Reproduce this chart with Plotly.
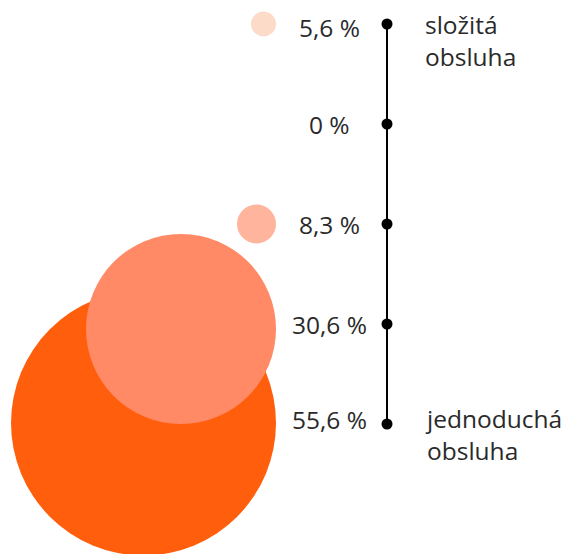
import plotly.graph_objects as go

# ---- data ----
row_labels = ["5,6 %", "0 %", "8,3 %", "30,6 %", "55,6 %"]
values = [5.6, 0.0, 8.3, 30.6, 55.6]
end_labels = {0: "složitá<br>obsluha", 4: "jednoduchá<br>obsluha"}

# ---- style ----
OFF = 8                                 # page body margin
W, H = 572 - OFF, 554 - OFF
bubble_colors = ["#FCDCC9", None, "#FFB49E", "#FF8A65", "#FF5F0D"]
bubble_diam = [25, 0, 39, 190, 265]     # rendered bubble diameters (px)
bubble_dy = [0, 0, 0, 0.05, -0.01]      # small vertical nudges of bubbles (row units)
bubble_right = 276 - OFF                # right edge of all bubbles (px)
axis_x = 387 - OFF
label_x = 329 - OFF
right_x = 423 - OFF
label_yshift = [-3, 0, 0, 0, 5]         # fine vertical nudges of % labels (px)
end_yshift = {0: 18, 4: 24}
text_color = "#2a2a2a"
FONT = "Open Sans"
FS = 24.5

# row pixel mapping: row 0 at y=24, row 4 at y=424 (page px)
top_px, step_px = 24 - OFF, 100.0
y_range = [(H - top_px) / step_px, -top_px / step_px]

n = len(values)
rows = list(range(n))

fig = go.Figure()

# bubbles, largest drawn first
order = sorted([i for i in rows if values[i] > 0], key=lambda i: -values[i])
fig.add_trace(go.Scatter(
    x=[bubble_right - bubble_diam[i] / 2 for i in order],
    y=[i + bubble_dy[i] for i in order],
    mode="markers",
    marker=dict(size=[bubble_diam[i] for i in order],
                color=[bubble_colors[i] for i in order],
                line=dict(width=0), opacity=1),
    hoverinfo="skip", showlegend=False,
))

# vertical axis line with dots
fig.add_trace(go.Scatter(
    x=[axis_x] * n, y=rows, mode="lines+markers",
    line=dict(color="#000000", width=2),
    marker=dict(size=11, color="#000000"),
    hoverinfo="skip", showlegend=False,
))

# percentage labels
for i in rows:
    fig.add_annotation(x=label_x, y=i, text=row_labels[i], showarrow=False,
                       xanchor="center", yanchor="middle",
                       yshift=label_yshift[i],
                       font=dict(family=FONT, size=FS, color=text_color))

for i, t in end_labels.items():
    fig.add_annotation(x=right_x, y=i, text=t, showarrow=False,
                       xanchor="left", yanchor="top", align="left",
                       yshift=end_yshift[i],
                       font=dict(family=FONT, size=FS, color=text_color))

fig.update_layout(
    width=W, height=H, margin=dict(l=0, r=0, t=0, b=0),
    paper_bgcolor="white", plot_bgcolor="white",
    xaxis=dict(range=[0, W], visible=False, fixedrange=True),
    yaxis=dict(range=y_range, visible=False, fixedrange=True),
)

fig.write_html("out.html")
